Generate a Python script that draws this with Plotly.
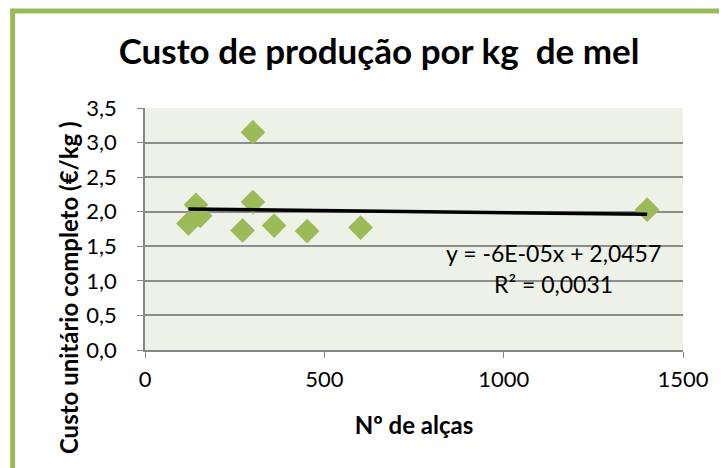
import plotly.graph_objects as go

# Data
n_alcas = [121, 142, 154, 301, 301, 272, 360, 452, 601, 1400]
custo = [1.83, 2.10, 1.94, 3.15, 2.14, 1.73, 1.80, 1.72, 1.77, 2.03]
trend_slope = -6e-05
trend_intercept = 2.0457
y_ticks = [0, 0.5, 1.0, 1.5, 2.0, 2.5, 3.0, 3.5]
y_tick_labels = ["0,0", "0,5", "1,0", "1,5", "2,0", "2,5", "3,0", "3,5"]
x_ticks = [0, 500, 1000, 1500]

FONT = "Lato"
GREEN = "#9BBB59"

x_tr = [min(n_alcas), max(n_alcas)]
y_tr = [trend_slope * v + trend_intercept for v in x_tr]

fig = go.Figure()
fig.add_trace(go.Scatter(
    x=n_alcas, y=custo, mode="markers",
    marker=dict(symbol="diamond", size=19, color=GREEN, line=dict(width=0)),
    showlegend=False))
fig.add_trace(go.Scatter(
    x=x_tr, y=y_tr, mode="lines",
    line=dict(color="black", width=3.5), showlegend=False))

fig.update_layout(
    width=727, height=468,
    margin=dict(l=137, r=52, t=100, b=126),
    paper_bgcolor="white", plot_bgcolor="#EEF1E7",
    font=dict(family=FONT, color="black"),
    title=dict(text="<b>Custo de produção por kg  de mel</b>",
               x=0.435, xanchor="center", xref="paper", y=0.906, yanchor="middle",
               font=dict(size=35, family=FONT)),
    xaxis=dict(range=[0, 1500], tickvals=x_ticks, showgrid=False,
               showline=True, linecolor="#868686", linewidth=1.5,
               ticks="outside", ticklen=6, tickcolor="#868686",
               ticklabelstandoff=3,
               tickfont=dict(size=22), zeroline=False,
               title=dict(text="<b>Nº de alças</b>", font=dict(size=24), standoff=26)),
    yaxis=dict(range=[0, 3.5], tickvals=y_ticks, ticktext=y_tick_labels,
               showgrid=True, gridcolor="#8C8C8C", gridwidth=1.5,
               showline=True, linecolor="#868686", linewidth=1.5,
               ticks="outside", ticklen=6, tickcolor="#868686",
               ticklabelstandoff=16,
               tickfont=dict(size=22), zeroline=False),
    shapes=[
        dict(type="line", xref="paper", yref="paper", x0=-0.246, x1=-0.246,
             y0=1.41, y1=-0.6, line=dict(color=GREEN, width=5)),
        dict(type="line", xref="paper", yref="paper", x0=-0.25, x1=1.2,
             y0=1.401, y1=1.401, line=dict(color=GREEN, width=5)),
    ],
    annotations=[
        dict(text="<b>Custo unitário completo (€/kg )</b>", xref="paper", yref="paper",
             x=-0.143, y=0.256, textangle=-90, showarrow=False,
             font=dict(size=24, family=FONT), xanchor="center", yanchor="middle"),
        dict(text="y = -6E-05x + 2,0457", xref="x", yref="y", x=1140, y=1.41,
             showarrow=False, font=dict(size=23, family=FONT)),
        dict(text="R² = 0,0031", xref="x", yref="y", x=1140, y=0.96,
             showarrow=False, font=dict(size=23, family=FONT)),
    ],
)

fig.write_html("out.html")
